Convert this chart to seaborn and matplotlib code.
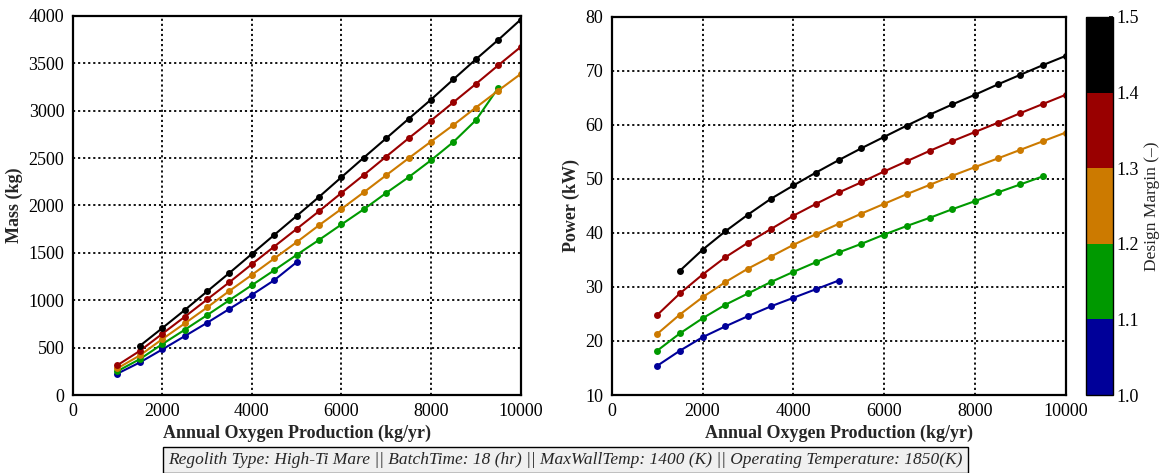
import numpy as np
import pandas as pd
import matplotlib
matplotlib.use("Agg")
import matplotlib.pyplot as plt
import seaborn as sns
from matplotlib.colors import ListedColormap, BoundaryNorm
import matplotlib.colorbar as mcolorbar

# Annual oxygen production grid (kg/yr)
x_1_5 = [1500, 2000, 2500, 3000, 3500, 4000, 4500, 5000, 5500, 6000, 6500,
         7000, 7500, 8000, 8500, 9000, 9500, 10000]
x_full = [1000] + x_1_5
x_1_2 = x_full[:-1]
x_1_1 = [1000, 1500, 2000, 2500, 3000, 3500, 4000, 4500, 5000]

# Mass (kg) per design margin
mass_1_5 = [519, 706, 896, 1093, 1289, 1489, 1690, 1890, 2091, 2299, 2506,
            2710, 2915, 3118, 3332, 3543, 3748, 3962]
mass_1_4 = [315, 466, 646, 825, 1008, 1191, 1381, 1567, 1753, 1940, 2133,
            2323, 2517, 2710, 2897, 3090, 3283, 3480, 3673]
mass_1_3 = [282, 418, 590, 755, 924, 1099, 1268, 1441, 1613, 1792, 1964,
            2140, 2320, 2499, 2675, 2850, 3034, 3213, 3388]
mass_1_2 = [252, 379, 537, 688, 843, 1001, 1159, 1317, 1479, 1637, 1800,
            1961, 2133, 2299, 2478, 2671, 2900, 3241]
mass_1_1 = [226, 344, 481, 621, 762, 909, 1057, 1212, 1402]

# Power (kW) per design margin
power_1_5 = [33.0, 36.9, 40.3, 43.4, 46.3, 48.8, 51.2, 53.5, 55.7, 57.8, 59.9,
             61.9, 63.8, 65.6, 67.5, 69.3, 71.1, 72.8]
power_1_4 = [24.8, 28.8, 32.3, 35.5, 38.2, 40.7, 43.2, 45.4, 47.5, 49.4, 51.4,
             53.3, 55.2, 57.0, 58.7, 60.4, 62.2, 63.9, 65.6]
power_1_3 = [21.3, 24.9, 28.1, 30.9, 33.4, 35.6, 37.8, 39.8, 41.7, 43.6, 45.4,
             47.2, 48.9, 50.6, 52.2, 53.8, 55.4, 57.0, 58.6]
power_1_2 = [18.2, 21.4, 24.2, 26.7, 28.8, 30.9, 32.8, 34.6, 36.4, 38.0, 39.7,
             41.3, 42.8, 44.4, 45.9, 47.5, 49.0, 50.5]
power_1_1 = [15.4, 18.2, 20.7, 22.7, 24.6, 26.4, 28.0, 29.6, 31.2]

margins = [1.1, 1.2, 1.3, 1.4, 1.5]
colors = ["#000099", "#009900", "#cc7a00", "#990000", "#000000"]
cbar_ticks = [1.0, 1.1, 1.2, 1.3, 1.4, 1.5]

series = [
    (1.1, x_1_1, mass_1_1, power_1_1),
    (1.2, x_1_2, mass_1_2, power_1_2),
    (1.3, x_full, mass_1_3, power_1_3),
    (1.4, x_full, mass_1_4, power_1_4),
    (1.5, x_1_5, mass_1_5, power_1_5),
]
frames = [pd.DataFrame({"production": xs, "mass": m, "power": p, "margin": dm})
          for dm, xs, m, p in series]
df = pd.concat(frames, ignore_index=True)
palette = dict(zip(margins, colors))

sns.set_theme(style="white")
plt.rcParams["font.family"] = ["Liberation Serif", "DejaVu Serif"]

fig = plt.figure(figsize=(11.63, 4.73), dpi=100)
ax1 = fig.add_axes([0.0625, 0.1649, 0.3852, 0.8013])
ax2 = fig.add_axes([0.526, 0.1649, 0.3904, 0.7992])
cax = fig.add_axes([0.9338, 0.1649, 0.0235, 0.7992])

grid_kw = dict(color="black", linestyle=(0, (1.2, 1.6)), linewidth=1.3)

for ax, col, ylim, ystep, ylabel in [
    (ax1, "mass", (0, 4000), 500, "Mass (kg)"),
    (ax2, "power", (10, 80), 10, "Power (kW)"),
]:
    sns.lineplot(data=df, x="production", y=col, hue="margin", palette=palette,
                 marker="o", markersize=5, markeredgewidth=0, linewidth=1.5,
                 legend=False, ax=ax, estimator=None, sort=False)
    ax.set_xlim(0, 10000)
    ax.set_ylim(*ylim)
    ax.set_xticks(np.arange(0, 10001, 2000))
    ax.set_yticks(np.arange(ylim[0], ylim[1] + 1, ystep))
    ax.grid(True, **grid_kw)
    ax.set_axisbelow(True)
    for s in ax.spines.values():
        s.set_color("black")
        s.set_linewidth(1.6)
    ax.tick_params(direction="in", length=3, width=1, colors="black",
                   labelsize=13, pad=6)
    ax.set_xlabel("Annual Oxygen Production (kg/yr)", fontsize=13,
                  fontweight="bold", labelpad=3)
    ax.set_ylabel(ylabel, fontsize=13, fontweight="bold", labelpad=4)

# Discrete colour bar for design margin
cmap = ListedColormap(colors)
norm = BoundaryNorm(cbar_ticks, cmap.N)
cb = mcolorbar.ColorbarBase(cax, cmap=cmap, norm=norm, ticks=cbar_ticks,
                            orientation="vertical")
cb.ax.set_yticklabels([f"{t:.1f}" for t in cbar_ticks])
cb.ax.tick_params(direction="in", length=3, labelsize=13, colors="black", pad=2)
cb.outline.set_edgecolor("black")
cb.outline.set_linewidth(1.0)
cb.set_label("Design Margin (–)", fontsize=12.5, labelpad=4)

fig.text(0.486, 0.027,
         "Regolith Type: High-Ti Mare || BatchTime: 18 (hr) || "
         "MaxWallTemp: 1400 (K) || Operating Temperature: 1850(K)",
         ha="center", va="center", fontsize=12.5, style="italic",
         bbox=dict(boxstyle="square,pad=0.3", facecolor="#f0f0f0",
                   edgecolor="black", linewidth=1.0))

fig.savefig("out.png", dpi=100)
